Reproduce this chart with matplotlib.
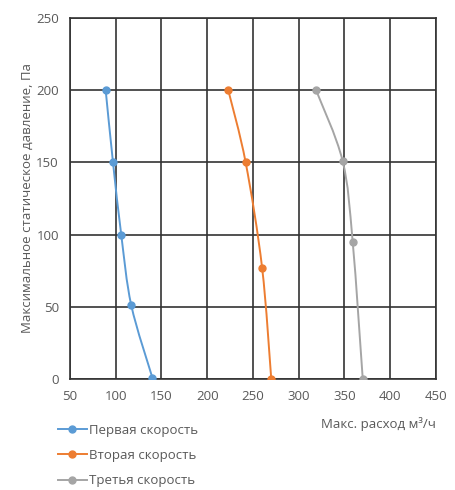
import numpy as np
import matplotlib.pyplot as plt
from matplotlib.path import Path
from matplotlib.patches import PathPatch
from matplotlib.lines import Line2D

plt.rcParams['font.family'] = ['Open Sans', 'DejaVu Sans']

# данные: расход (м³/ч) и давление (Па)
speed1_x = [89, 97, 106, 117, 140]
speed1_y = [200, 150, 100, 51, 1]
speed2_x = [223, 242, 260, 270]
speed2_y = [200, 150, 77, 0]
speed3_x = [319, 348, 359, 370]
speed3_y = [200, 151, 95, 0]
names = ['Первая скорость', 'Вторая скорость', 'Третья скорость']
colors = ['#5B9BD5', '#ED7D31', '#A5A5A5']

x_ticks = [50, 100, 150, 200, 250, 300, 350, 400, 450]
y_ticks = [0, 50, 100, 150, 200, 250]


def smooth_path(ax, xs, ys, color):
    # сглаженная линия как в Excel (Catmull-Rom -> кривые Безье)
    pts = np.column_stack([xs, ys]).astype(float)
    n = len(pts)
    verts = [pts[0]]
    codes = [Path.MOVETO]
    for i in range(n - 1):
        p0 = pts[i - 1] if i > 0 else pts[i]
        p1 = pts[i]
        p2 = pts[i + 1]
        p3 = pts[i + 2] if i + 2 < n else pts[i + 1]
        c1 = p1 + (p2 - p0) / 6.0
        c2 = p2 - (p3 - p1) / 6.0
        verts += [c1, c2, p2]
        codes += [Path.CURVE4] * 3
    patch = PathPatch(Path(verts, codes), facecolor='none', edgecolor=color,
                      linewidth=1.4, zorder=3)
    ax.add_patch(patch)


fig = plt.figure(figsize=(4.56, 4.90), dpi=100)
ax = fig.add_axes([0.1535, 0.2265, 0.8025, 0.7368])

series = [(speed1_x, speed1_y), (speed2_x, speed2_y), (speed3_x, speed3_y)]
for (xs, ys), c in zip(series, colors):
    smooth_path(ax, xs, ys, c)
    ax.plot(xs, ys, linestyle='none', marker='o', markersize=5, color=c, zorder=4)

ax.set_xlim(50, 450)
ax.set_ylim(0, 250)
ax.set_xticks(x_ticks)
ax.set_yticks(y_ticks)
ax.grid(True, color='#333333', linewidth=1.2)
ax.set_axisbelow(True)
for s in ax.spines.values():
    s.set_color('#333333')
    s.set_linewidth(1.2)
ax.tick_params(length=0, labelsize=9.5, labelcolor='#595959', pad=8)

ax.set_ylabel('Максимальное статическое давление, Па', fontsize=9.5,
              color='#595959')
ax.yaxis.set_label_coords(-0.098, 0.5)
ax.set_xlabel('Макс. расход м³/ч', fontsize=9.5, color='#595959')
ax.xaxis.set_label_coords(1.0, -0.105)
ax.xaxis.label.set_horizontalalignment('right')

handles = [Line2D([0], [0], color=c, marker='o', markersize=5, linewidth=1.4)
           for c in colors]
fig.legend(handles, names, loc='upper left', bbox_to_anchor=(0.115, 0.146),
           frameon=False, fontsize=9.5, labelcolor='#595959', handlelength=2.2,
           handletextpad=0.2, labelspacing=0.93, borderaxespad=0)

fig.savefig('out.png', dpi=100)
